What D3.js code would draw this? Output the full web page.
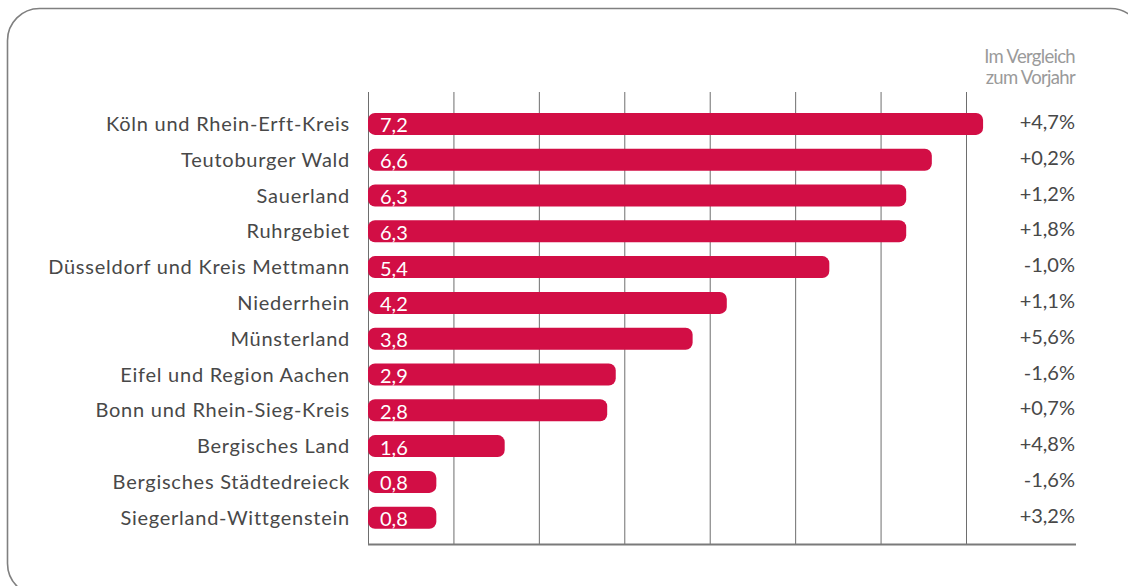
<!DOCTYPE html>
<html>
<head>
<meta charset="utf-8">
<script src="https://cdn.jsdelivr.net/npm/d3@7"></script>
<style>
  body { margin: 0; background: #fff; }
  svg { display: block; }
  text { font-family: Lato, "Open Sans", sans-serif; }
</style>
</head>
<body>
<div id="vis"></div>
<script>
var regions = ["Köln und Rhein-Erft-Kreis", "Teutoburger Wald", "Sauerland", "Ruhrgebiet",
  "Düsseldorf und Kreis Mettmann", "Niederrhein", "Münsterland", "Eifel und Region Aachen",
  "Bonn und Rhein-Sieg-Kreis", "Bergisches Land", "Bergisches Städtedreieck", "Siegerland-Wittgenstein"];
var values = [7.2, 6.6, 6.3, 6.3, 5.4, 4.2, 3.8, 2.9, 2.8, 1.6, 0.8, 0.8];
var changes = ["+4,7%", "+0,2%", "+1,2%", "+1,8%", "-1,0%", "+1,1%", "+5,6%", "-1,6%", "+0,7%", "+4,8%", "-1,6%", "+3,2%"];
var gridTicks = [0, 1, 2, 3, 4, 5, 6, 7];
var headerLines = ["Im Vergleich", "zum Vorjahr"];

var w = 1128, h = 586;

var svg = d3.select("#vis").append("svg")
    .attr("width", w)
    .attr("height", h);

// frame (rounded box, runs off the right and bottom edge)
svg.append("rect")
    .attr("x", 7.5).attr("y", 8.5)
    .attr("width", 1135).attr("height", 587)
    .attr("rx", 32).attr("ry", 32)
    .attr("fill", "none")
    .attr("stroke", "#808080")
    .attr("stroke-width", 1.6);

var x = d3.scaleLinear().domain([0, 7]).range([368, 966]);
var y = d3.scaleBand().domain(regions).range([106, 535.6])
    .paddingInner(0.385).paddingOuter(0.1925);

var data = d3.zip(regions, values, changes);

// vertical grid lines
svg.append("g").selectAll("line")
    .data(gridTicks)
  .enter().append("line")
    .attr("x1", function(d) { return x(d) + 0.5; })
    .attr("x2", function(d) { return x(d) + 0.5; })
    .attr("y1", 92).attr("y2", 544)
    .attr("stroke", "#6e6e6e")
    .attr("stroke-width", 1);

// baseline
svg.append("line")
    .attr("x1", x(0)).attr("x2", 1076)
    .attr("y1", 544.5).attr("y2", 544.5)
    .attr("stroke", "#7a7a7a")
    .attr("stroke-width", 2);

// bars
svg.append("g").selectAll("rect")
    .data(data)
  .enter().append("rect")
    .attr("x", x(0))
    .attr("y", function(d) { return y(d[0]); })
    .attr("width", function(d) { return x(d[1]) - x(0); })
    .attr("height", y.bandwidth())
    .attr("rx", 7).attr("ry", 7)
    .attr("fill", "#d20e45");

// values inside the bars
svg.append("g").selectAll("text")
    .data(data)
  .enter().append("text")
    .attr("x", x(0) + 12)
    .attr("y", function(d) { return y(d[0]) + y.bandwidth() - 2.5; })
    .attr("fill", "#fff")
    .attr("font-size", 20)
    .text(function(d) { return d3.format(".1f")(d[1]).replace(".", ","); });

// category labels
svg.append("g").selectAll("text")
    .data(data)
  .enter().append("text")
    .attr("x", 350)
    .attr("y", function(d) { return y(d[0]) + y.bandwidth() / 2 + 7; })
    .attr("text-anchor", "end")
    .attr("fill", "#484848")
    .attr("font-size", 20)
    .attr("letter-spacing", 0.75)
    .text(function(d) { return d[0]; });

// change vs previous year
svg.append("g").selectAll("text")
    .data(data)
  .enter().append("text")
    .attr("x", 1075)
    .attr("y", function(d) { return y(d[0]) + y.bandwidth() / 2 + 5; })
    .attr("text-anchor", "end")
    .attr("fill", "#484848")
    .attr("font-size", 20)
    .text(function(d) { return d[2]; });

// header
svg.append("g").selectAll("text")
    .data(headerLines)
  .enter().append("text")
    .attr("x", 1075)
    .attr("y", function(d, i) { return 63 + i * 20.5; })
    .attr("text-anchor", "end")
    .attr("fill", "#9a9a9a")
    .attr("font-size", 18.5)
    .attr("letter-spacing", -0.7)
    .text(function(d) { return d; });
</script>
</body>
</html>
